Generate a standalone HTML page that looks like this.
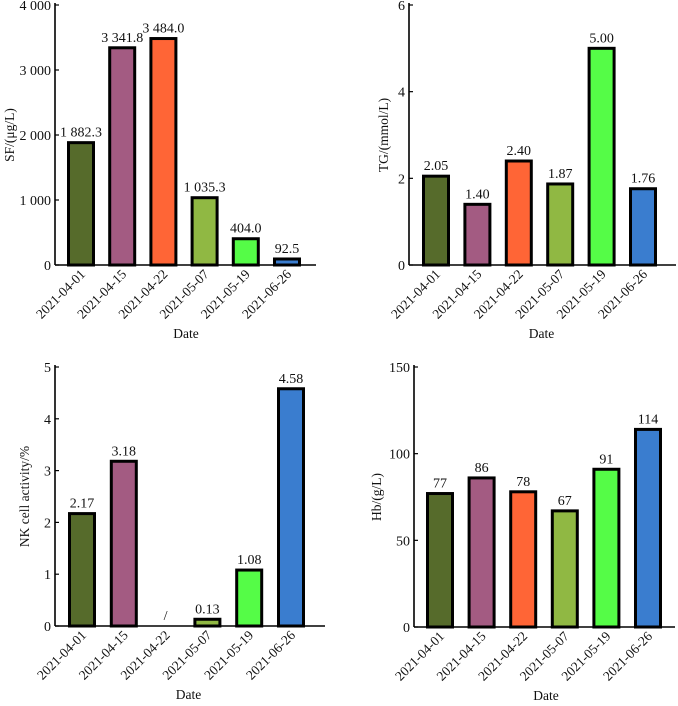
<!DOCTYPE html>
<html><head><meta charset="utf-8"><style>
body{margin:0;background:#fff;width:678px;height:701px;overflow:hidden}
svg text{font-family:"Liberation Serif",serif;fill:#111}
</style></head><body>
<svg id="c" width="678" height="701" xmlns="http://www.w3.org/2000/svg"></svg>
<script>
const categories=["2021-04-01","2021-04-15","2021-04-22","2021-05-07","2021-05-19","2021-06-26"];
const colors=["#566b2b","#a35b82","#ff6536","#90b843","#55fc47","#3a7dcf"];
const sfValues=[1882.3,3341.8,3484.0,1035.3,404.0,92.5];
const sfLabels=["1 882.3","3 341.8","3 484.0","1 035.3","404.0","92.5"];
const sfTicks=["0","1 000","2 000","3 000","4 000"];
const tgValues=[2.05,1.40,2.40,1.87,5.00,1.76];
const tgLabels=["2.05","1.40","2.40","1.87","5.00","1.76"];
const tgTicks=["0","2","4","6"];
const nkValues=[2.17,3.18,null,0.13,1.08,4.58];
const nkLabels=["2.17","3.18","/","0.13","1.08","4.58"];
const nkTicks=["0","1","2","3","4","5"];
const hbValues=[77,86,78,67,91,114];
const hbLabels=["77","86","78","67","91","114"];
const hbTicks=["0","50","100","150"];

const svg=document.getElementById('c');
const NS="http://www.w3.org/2000/svg";
function mk(t,a,p){const e=document.createElementNS(NS,t);for(const k in a)e.setAttribute(k,a[k]);(p||svg).appendChild(e);return e;}

function panel(name,o,vals,labels,ticks,ymax,title){
  const g=mk('g',{});
  
  
  const y=v=>o.y0-(v/ymax)*(o.y0-o.y1);
  const x=i=>o.c0+i*o.pitch;
  const ax=mk('line',{x1:o.ax,y1:o.y1-2,x2:o.ax,y2:o.y0,stroke:'#000','stroke-width':1.6},g);
  
  
  const bx=mk('line',{x1:o.ax,y1:o.y0,x2:o.xe,y2:o.y0,stroke:'#000','stroke-width':1.6},g);
  
  
  ticks.forEach((t,i)=>{
    const v=i*ymax/(ticks.length-1);
    mk('line',{x1:o.ax,y1:y(v),x2:o.ax+4,y2:y(v),stroke:'#000','stroke-width':1.2},g);
    const tx=mk('text',{x:o.ax-4,y:y(v)+5,'text-anchor':'end','font-size':14},g);
    tx.textContent=t;
    
    
  });
  vals.forEach((v,i)=>{
    const cx=x(i);
    if(v!==null){
      const r=mk('rect',{x:cx-12.5,y:y(v),width:25,height:o.y0-y(v),fill:colors[i],stroke:'#000','stroke-width':3},g);
      
      
    }
    const lv=mk('text',{x:cx,y:(v===null?o.y0:y(v))-6,'text-anchor':'middle','font-size':14},g);
    lv.textContent=labels[i];
    
    
    const cl=mk('text',{x:0,y:0,'text-anchor':'end','font-size':13.5,transform:`translate(${cx+5},${o.y0+10}) rotate(-45)`},g);
    cl.textContent=categories[i];
    
    
  });
  const xt=mk('text',{x:(o.c0+x(5))/2+2,y:o.y0+73,'text-anchor':'middle','font-size':13.5},g);
  xt.textContent='Date';
  
  
  const yt=mk('text',{x:0,y:0,'text-anchor':'middle','font-size':13.5,transform:`translate(${o.yt},${(o.y0+o.y1)/2}) rotate(-90)`},g);
  yt.textContent=title;
  
  
}
panel('sf',{ax:55,xe:316,y0:265,y1:5,c0:81,pitch:41.2,yt:14},sfValues,sfLabels,sfTicks,4000,'SF/(μg/L)');
panel('tg',{ax:409,xe:676,y0:265,y1:5,c0:436,pitch:41.4,yt:388},tgValues,tgLabels,tgTicks,6,'TG/(mmol/L)');
panel('nk',{ax:55,xe:325,y0:626,y1:367,c0:82,pitch:41.8,yt:29},nkValues,nkLabels,nkTicks,5,'NK cell activity/%');
panel('hb',{ax:414,xe:675,y0:627,y1:367,c0:440,pitch:41.6,yt:381},hbValues,hbLabels,hbTicks,150,'Hb/(g/L)');
</script>
</body></html>
